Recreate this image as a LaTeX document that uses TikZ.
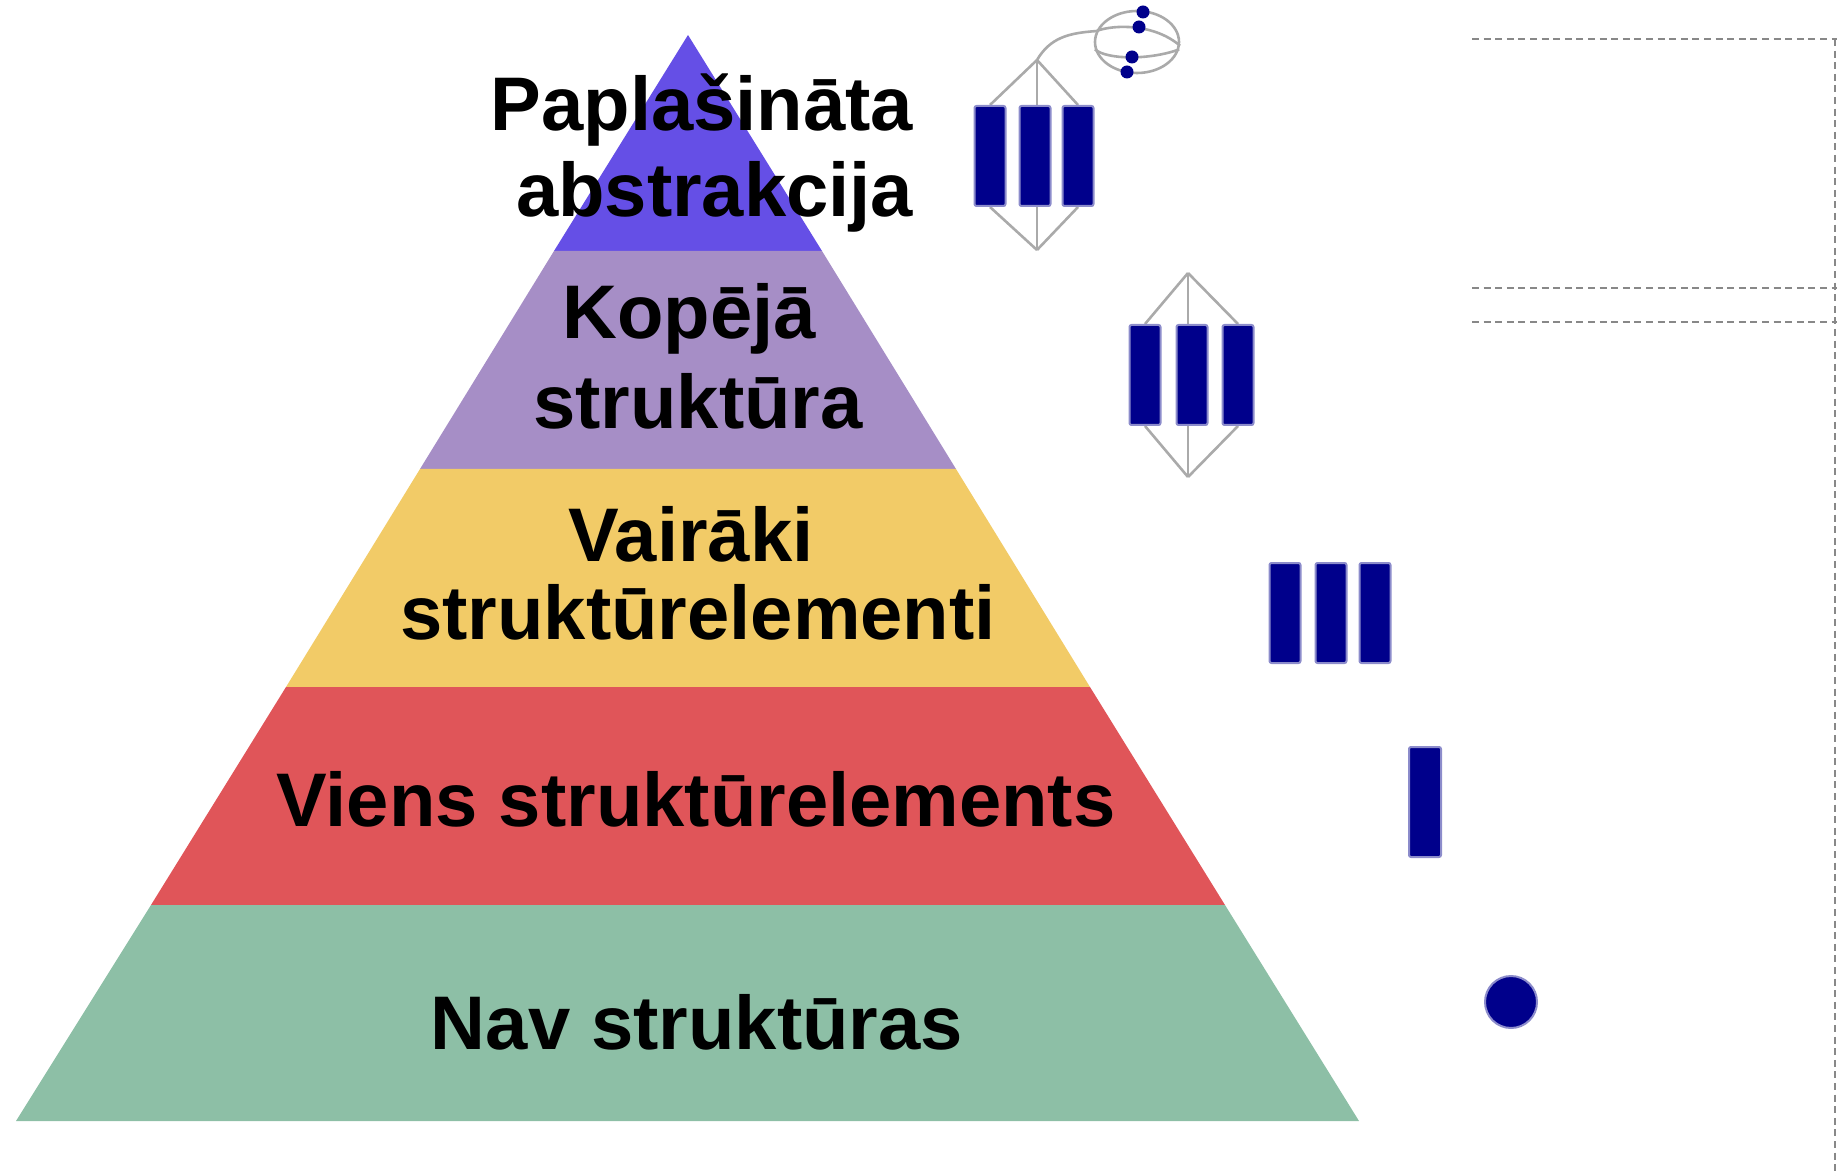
\documentclass[tikz,border=0pt]{standalone}
\usepackage{fontspec}
\setmainfont{Liberation Sans}
\usepackage{tikz}
\usetikzlibrary{positioning,calc,backgrounds,shapes.geometric}
\definecolor{level1}{HTML}{8DBFA6}
\definecolor{level2}{HTML}{E05559}
\definecolor{level3}{HTML}{F2CB67}
\definecolor{level4}{HTML}{A68EC6}
\definecolor{level5}{HTML}{654FE6}
\definecolor{barblue}{HTML}{00008B}
\definecolor{linkgray}{HTML}{AAAAAA}
\definecolor{dashgray}{HTML}{888888}
\begin{document}
\begin{tikzpicture}[x=0.5pt,y=-0.5pt,
  level text/.style={font=\fontsize{38}{44}\selectfont\bfseries,align=center,text=black},
  bar node/.style={rectangle,rounded corners=1pt,fill=barblue,draw=barblue!45,line width=1pt,minimum width=15.5pt,minimum height=50pt,inner sep=0pt},
  dot node/.style={circle,fill=barblue,inner sep=0pt,minimum size=#1},
  link/.style={draw=linkgray,line width=1.3pt},
  guide/.style={draw=dashgray,line width=0.6pt,dash pattern=on 3.5pt off 2.3pt}]
    \useasboundingbox (0,0) rectangle (1837,1176);
    % pyramid
    \fill[level5] (688,35) -- (822,251) -- (554,251) -- cycle;
    \fill[level4] (554,251) -- (822,251) -- (956,469) -- (420,469) -- cycle;
    \fill[level3] (420,469) -- (956,469) -- (1090,687) -- (286,687) -- cycle;
    \fill[level2] (286,687) -- (1090,687) -- (1225,905) -- (151,905) -- cycle;
    \fill[level1] (151,905) -- (1225,905) -- (1359,1121) -- (16,1121) -- cycle;
    \node[level text,align=right](T5) at (702,153){Paplašināta\\[-1pt]abstrakcija};
    \node[level text](T4) at (698,356){Kopējā\hspace*{9pt}\\[1pt]struktūra};
    \node[level text](T3) at (698,573){Vairāki\hspace*{7pt}\\[-5pt]struktūrelementi};
    \node[level text](T2) at (696,799){Viens struktūrelements};
    \node[level text](T1) at (697,1022){Nav struktūras};
    % bars
    \foreach \name/\xpos/\ypos in {A1/990/156,A2/1035/156,A3/1078/156,
      B1/1145/375,B2/1192/375,B3/1238/375,
      C1/1285/613,C2/1331/613,C3/1375/613}
      \node[bar node](\name) at (\xpos,\ypos){};
    \node[bar node,minimum height=55pt,minimum width=16pt](D) at (1425,802){};
    \node[dot node=26pt,draw=barblue!45,line width=1pt](E) at (1511,1002){};
    % helix bundles
    \coordinate (Atop) at (1037,60);
    \coordinate (Abot) at (1037,250);
    \coordinate (Btop) at (1188,273);
    \coordinate (Bbot) at (1188,477);
    \begin{pgfonlayer}{background}
    \foreach \tip/\name in {Atop/A1,Atop/A3,Btop/B1,Btop/B3}
      \draw[link] (\tip) -- (\name.north);
    \foreach \tip/\name in {Abot/A1,Abot/A3,Bbot/B1,Bbot/B3}
      \draw[link] (\tip) -- (\name.south);
    \foreach \tip/\name in {Atop/A2,Abot/A2,Btop/B2,Bbot/B2}
      \draw[link] (\tip) -- (\tip |- \name.center);
    \end{pgfonlayer}
    % orbit
    \node[draw=linkgray,line width=1.3pt,ellipse,minimum width=42pt,minimum height=31pt,inner sep=0pt](O) at (1137,42){};
    \draw[link] (Atop) .. controls (1050,38) and (1068,33) .. (O.165);
    \draw[link] (O.165) .. controls (1115,24) and (1155,24) .. (O.-5);
    \draw[link] (O.190) .. controls (1108,60) and (1150,60) .. (O.-10);
    \node[dot node=6.5pt](O1) at (1143,12){};
    \node[dot node=6.5pt](O2) at (1139,27){};
    \node[dot node=6.5pt](O3) at (1132,57){};
    \node[dot node=6.5pt](O4) at (1127,72){};
    % guides
    \coordinate (G1) at (1472,39);
    \coordinate (G2) at (1472,288);
    \coordinate (G3) at (1472,322);
    \coordinate (R1) at (1837,39);
    \coordinate (R2) at (1837,288);
    \coordinate (R3) at (1837,322);
    \coordinate (R4) at (1835,39);
    \coordinate (R5) at (1835,1176);
    \draw[guide] (G1) -- (R1);
    \draw[guide] (G2) -- (R2);
    \draw[guide] (G3) -- (R3);
    \draw[guide] (R4) -- (R5);
\end{tikzpicture}
\end{document}
